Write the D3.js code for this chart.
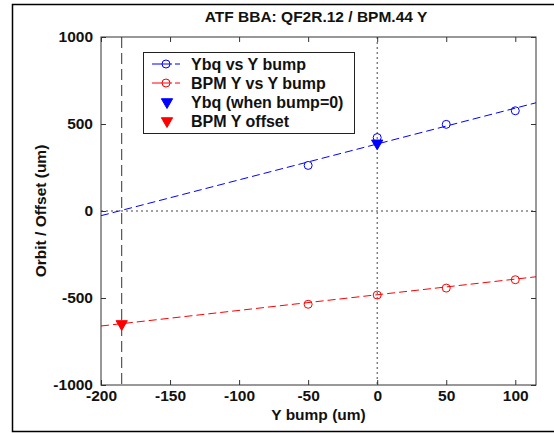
<!DOCTYPE html>
<html><head><meta charset="utf-8">
<script src="https://cdn.jsdelivr.net/npm/d3@7"></script>
<style>body{margin:0;background:#fff}svg{display:block}text{font-family:"Liberation Sans",Arial,sans-serif}</style>
</head><body><svg id="c" width="554" height="433"></svg>
<script>
const bumpX = [-50, 0, 50, 100];
const ybqY = [262, 422, 498, 576];
const bpmY = [-536, -483, -443, -395];
const ybqFit = [[-200, -27], [115, 622]];
const bpmFit = [[-200, -661], [115, -378]];
const ybqAtZero = [0, 389];
const bpmOffset = [-185, -649];
const xTicks = [-200, -150, -100, -50, 0, 50, 100];
const yTicks = [-1000, -500, 0, 500, 1000];
const legendLabels = ["Ybq vs Y bump", "BPM Y vs Y bump", "Ybq (when bump=0)", "BPM Y offset"];

const svg = d3.select("#c");
const L = 101, R = 536, T = 37, B = 385;
const x = d3.scaleLinear().domain([-200, 115]).range([L, R]);
const y = d3.scaleLinear().domain([-1000, 1000]).range([B, T]);
const axisCol = "#333";
const FS = 15.5;

// outer frame
svg.append("path").attr("d", "M554,4.5H12.5V431.5H554").attr("fill", "none").attr("stroke", "#000").attr("stroke-width", 1.5);

// title
svg.append("text").attr("x", 316).attr("y", 21.5).attr("text-anchor", "middle")
  .attr("font-size", FS).attr("font-weight", "bold").attr("fill", "#111").text("ATF BBA: QF2R.12 / BPM.44 Y");

// reference lines
svg.append("line").attr("x1", x(0)).attr("x2", x(0)).attr("y1", T).attr("y2", B)
  .attr("stroke", "#444").attr("stroke-dasharray", "2,3");
svg.append("line").attr("x1", L).attr("x2", R).attr("y1", y(0)).attr("y2", y(0))
  .attr("stroke", "#444").attr("stroke-dasharray", "2,3");
svg.append("line").attr("x1", x(bpmOffset[0])).attr("x2", x(bpmOffset[0])).attr("y1", T).attr("y2", B)
  .attr("stroke", "#333").attr("stroke-dasharray", "11,5");

const line = d3.line().x(d => x(d[0])).y(d => y(d[1]));
svg.append("path").attr("d", line(ybqFit)).attr("fill", "none").attr("stroke", "#0000ff").attr("stroke-dasharray", "8,4");
svg.append("path").attr("d", line(bpmFit)).attr("fill", "none").attr("stroke", "#ff0000").attr("stroke-dasharray", "8,4");

// circles
svg.selectAll(".cb").data(bumpX.map((v, i) => [v, ybqY[i]])).join("circle")
  .attr("cx", d => x(d[0])).attr("cy", d => y(d[1])).attr("r", 4).attr("fill", "none").attr("stroke", "#0000ff");
svg.selectAll(".cr").data(bumpX.map((v, i) => [v, bpmY[i]])).join("circle")
  .attr("cx", d => x(d[0])).attr("cy", d => y(d[1])).attr("r", 4).attr("fill", "none").attr("stroke", "#ff0000");

const tri = d3.symbol().type(d3.symbolTriangle).size(55);
function drawTri(px, py, col) {
  svg.append("path").attr("d", tri()).attr("transform", `translate(${px},${py}) rotate(180)`).attr("fill", col).attr("stroke", col);
}
drawTri(x(ybqAtZero[0]), y(ybqAtZero[1]), "#0000ff");
drawTri(x(bpmOffset[0]), y(bpmOffset[1]), "#ff0000");

// axes (ticks inside, box)
const tl = 5;
const fmt = d => d3.format("d")(d).replace("−", "-");
svg.append("g").attr("transform", `translate(0,${B})`)
  .call(d3.axisBottom(x).tickValues(xTicks).tickSizeInner(-tl).tickSizeOuter(0).tickPadding(5).tickFormat(fmt));
svg.append("g").attr("transform", `translate(0,${T})`)
  .call(d3.axisTop(x).tickValues(xTicks).tickSizeInner(-tl).tickSizeOuter(0).tickFormat(""));
svg.append("g").attr("transform", `translate(${L},0)`)
  .call(d3.axisLeft(y).tickValues(yTicks).tickSizeInner(-tl).tickSizeOuter(0).tickPadding(8).tickFormat(fmt));
svg.append("g").attr("transform", `translate(${R},0)`)
  .call(d3.axisRight(y).tickValues(yTicks).tickSizeInner(-tl).tickSizeOuter(0).tickFormat(""));
svg.selectAll(".tick text").attr("font-size", FS).attr("font-weight", "bold").attr("fill", "#111")
  .attr("font-family", "'Liberation Sans',Arial,sans-serif");
svg.selectAll(".domain").remove();
svg.selectAll(".tick line").attr("stroke", axisCol);
svg.append("rect").attr("x", L).attr("y", T).attr("width", R - L).attr("height", B - T)
  .attr("fill", "none").attr("stroke", axisCol);

// axis labels
svg.append("text").attr("x", (L + R) / 2).attr("y", 420).attr("text-anchor", "middle")
  .attr("font-size", FS).attr("font-weight", "bold").attr("fill", "#111").text("Y bump (um)");
svg.append("text").attr("transform", `translate(46,${(T + B) / 2}) rotate(-90)`).attr("text-anchor", "middle")
  .attr("font-size", FS).attr("font-weight", "bold").attr("fill", "#111").text("Orbit / Offset (um)");

// legend
const lg = svg.append("g");
lg.append("rect").attr("x", 143.5).attr("y", 52.5).attr("width", 211).attr("height", 81)
  .attr("fill", "#fff").attr("stroke", "#222");
const rowY = [64, 83, 102, 121];
const cols = ["#0000ff", "#ff0000", "#0000ff", "#ff0000"];
legendLabels.forEach((t, i) => {
  const yy = rowY[i];
  if (i < 2) {
    lg.append("line").attr("x1", 152).attr("x2", 181).attr("y1", yy).attr("y2", yy)
      .attr("stroke", cols[i]).attr("stroke-dasharray", "20,3,5,10");
    lg.append("circle").attr("cx", 166).attr("cy", yy).attr("r", 4).attr("fill", "none").attr("stroke", cols[i]);
  } else {
    lg.append("path").attr("d", tri()).attr("transform", `translate(167,${yy}) rotate(180)`).attr("fill", cols[i]).attr("stroke", cols[i]);
  }
  lg.append("text").attr("x", 191).attr("y", yy + 5.5).attr("font-size", 16).attr("font-weight", "bold")
    .attr("fill", "#111").text(t);
});
</script></body></html>
